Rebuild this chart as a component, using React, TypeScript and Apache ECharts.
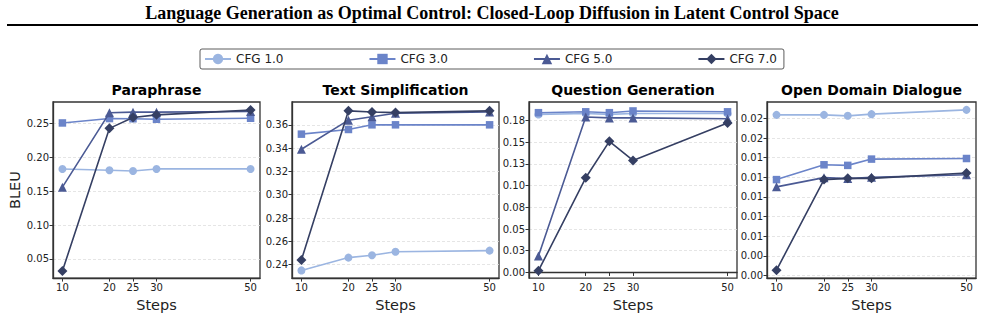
import React, { useEffect, useRef } from "react";
import * as echarts from "echarts";

// Sampling steps on the shared x axis
const steps = [10, 20, 25, 30, 50];

const seriesNames = ["CFG 1.0", "CFG 3.0", "CFG 5.0", "CFG 7.0"];
const seriesColors = ["#9bb5e1", "#6b84c9", "#4b5a94", "#353f63"];
const seriesSymbols = ["circle", "rect", "triangle", "diamond"];
const symbolSizes = [8, 7.5, 9, 10];

const panelTitles = [
  "Paraphrase",
  "Text Simplification",
  "Question Generation",
  "Open Domain Dialogue",
];

// BLEU per CFG scale, one list per panel and scale
const paraphraseCfg1 = [0.183, 0.181, 0.18, 0.183, 0.183];
const paraphraseCfg3 = [0.251, 0.2575, 0.2572, 0.2565, 0.258];
const paraphraseCfg5 = [0.156, 0.266, 0.267, 0.267, 0.268];
const paraphraseCfg7 = [0.032, 0.243, 0.259, 0.263, 0.27];

const simplificationCfg1 = [0.235, 0.246, 0.248, 0.251, 0.252];
const simplificationCfg3 = [0.352, 0.356, 0.36, 0.36, 0.36];
const simplificationCfg5 = [0.339, 0.364, 0.367, 0.37, 0.371];
const simplificationCfg7 = [0.244, 0.372, 0.371, 0.3705, 0.372];

const questionCfg1 = [0.182, 0.183, 0.182, 0.183, 0.183];
const questionCfg3 = [0.184, 0.185, 0.184, 0.186, 0.185];
const questionCfg5 = [0.019, 0.179, 0.178, 0.178, 0.177];
const questionCfg7 = [0.002, 0.109, 0.151, 0.129, 0.172];

const dialogueCfg1 = [0.01837, 0.01837, 0.01827, 0.01844, 0.01888];
const dialogueCfg3 = [0.01177, 0.01328, 0.01322, 0.01386, 0.01392];
const dialogueCfg5 = [0.01103, 0.01197, 0.01187, 0.012, 0.01227];
const dialogueCfg7 = [0.00254, 0.01177, 0.0119, 0.0119, 0.01244];

// Y tick positions and their printed labels
const paraphraseTicks = [0.05, 0.1, 0.15, 0.2, 0.25];
const paraphraseTickLabels = ["0.05", "0.10", "0.15", "0.20", "0.25"];
const simplificationTicks = [0.24, 0.26, 0.28, 0.3, 0.32, 0.34, 0.36];
const simplificationTickLabels = ["0.24", "0.26", "0.28", "0.30", "0.32", "0.34", "0.36"];
const questionTicks = [0, 0.025, 0.05, 0.075, 0.1, 0.125, 0.15, 0.175];
const questionTickLabels = ["0.00", "0.03", "0.05", "0.08", "0.10", "0.13", "0.15", "0.18"];
const dialogueTicks = [0.002, 0.004, 0.006, 0.008, 0.01, 0.012, 0.014, 0.016, 0.018];
const dialogueTickLabels = ["0.00", "0.00", "0.01", "0.01", "0.01", "0.01", "0.01", "0.02", "0.02"];

const xTicks = [10, 20, 25, 30, 50];

const panels = [
  {
    data: [paraphraseCfg1, paraphraseCfg3, paraphraseCfg5, paraphraseCfg7],
    ticks: paraphraseTicks,
    labels: paraphraseTickLabels,
    min: 0.0215,
    max: 0.282,
  },
  {
    data: [simplificationCfg1, simplificationCfg3, simplificationCfg5, simplificationCfg7],
    ticks: simplificationTicks,
    labels: simplificationTickLabels,
    min: 0.2284,
    max: 0.3796,
  },
  {
    data: [questionCfg1, questionCfg3, questionCfg5, questionCfg7],
    ticks: questionTicks,
    labels: questionTickLabels,
    min: -0.0065,
    max: 0.1963,
  },
  {
    data: [dialogueCfg1, dialogueCfg3, dialogueCfg5, dialogueCfg7],
    ticks: dialogueTicks,
    labels: dialogueTickLabels,
    min: 0.00173,
    max: 0.01968,
  },
];

const gridBoxes = [
  { left: 53, width: 207 },
  { left: 292, width: 207 },
  { left: 529, width: 208 },
  { left: 767, width: 209 },
];
const gridTop = 102;
const gridHeight = 177;

const FONT = "DejaVu Sans";
const AXIS_COLOR = "#333333";

function buildOption(): echarts.EChartsOption {
  const grid = gridBoxes.map((b) => ({
    left: b.left,
    width: b.width,
    top: gridTop,
    height: gridHeight,
    show: true,
    borderColor: AXIS_COLOR,
    borderWidth: 1.3,
    containLabel: false,
  }));

  const xAxis = gridBoxes.map((_, i) => ({
    type: "value" as const,
    gridIndex: i,
    min: 8,
    max: 52,
    name: "Steps",
    nameLocation: "middle" as const,
    nameGap: 14,
    nameTextStyle: { fontFamily: FONT, fontSize: 14.5, color: "#222" },
    axisLine: { show: true, lineStyle: { color: AXIS_COLOR, width: 1.3 } },
    axisTick: {
      show: true,
      customValues: xTicks,
      length: 3.5,
      lineStyle: { color: AXIS_COLOR, width: 1 },
    },
    axisLabel: {
      customValues: xTicks,
      margin: 4,
      fontFamily: FONT,
      fontSize: 10,
      color: "#222",
      formatter: (v: number) => String(v),
    },
    splitLine: { show: false },
  }));

  const yAxis = panels.map((p, i) => ({
    type: "value" as const,
    gridIndex: i,
    min: p.min,
    max: p.max,
    name: i === 0 ? "BLEU" : "",
    nameLocation: "middle" as const,
    nameGap: 31,
    nameTextStyle: { fontFamily: FONT, fontSize: 14.5, color: "#222" },
    axisLine: { show: true, lineStyle: { color: AXIS_COLOR, width: 1.3 } },
    axisTick: {
      show: true,
      customValues: p.ticks,
      length: 3.5,
      lineStyle: { color: AXIS_COLOR, width: 1 },
    },
    axisLabel: {
      customValues: p.ticks,
      margin: 4,
      fontFamily: FONT,
      fontSize: 10,
      color: "#222",
      formatter: (v: number) => {
        let best = 0;
        let bestD = Infinity;
        p.ticks.forEach((t, k) => {
          const d = Math.abs(t - v);
          if (d < bestD) {
            bestD = d;
            best = k;
          }
        });
        return p.labels[best];
      },
    },
    splitLine: {
      show: true,
      lineStyle: { color: "#dedede", width: 0.8, type: [3, 2] as any },
    },
  }));

  const series: any[] = [];
  panels.forEach((p, i) => {
    p.data.forEach((vals, s) => {
      series.push({
        name: seriesNames[s],
        type: "line",
        xAxisIndex: i,
        yAxisIndex: i,
        data: steps.map((x, k) => [x, vals[k]]),
        symbol: seriesSymbols[s],
        symbolSize: symbolSizes[s],
        showAllSymbol: true,
        lineStyle: { color: seriesColors[s], width: 1.6 },
        itemStyle: { color: seriesColors[s] },
        z: 2 + s,
      });
    });
  });

  const graphic: any[] = [
    {
      type: "text",
      x: 492,
      y: 13,
      style: {
        text: "Language Generation as Optimal Control: Closed-Loop Diffusion in Latent Control Space",
        font: "bold 18px 'Liberation Serif'",
        fill: "#000",
        align: "center",
        verticalAlign: "middle",
      },
    },
    {
      type: "line",
      shape: { x1: 7, y1: 25, x2: 978, y2: 25 },
      style: { stroke: "#000", lineWidth: 2 },
    },
  ];
  gridBoxes.forEach((b, i) => {
    graphic.push({
      type: "text",
      x: b.left + b.width / 2,
      y: 90,
      style: {
        text: panelTitles[i],
        font: `bold 14px '${FONT}'`,
        fill: "#000",
        align: "center",
        verticalAlign: "middle",
      },
    });
  });

  return {
    animation: false,
    backgroundColor: "#ffffff",
    grid,
    xAxis,
    yAxis,
    series,
    graphic,
    legend: {
      data: seriesNames,
      left: 200,
      top: 49,
      orient: "horizontal",
      itemGap: 85,
      itemWidth: 26,
      itemHeight: 13,
      padding: [4, 7, 4, 4],
      borderColor: AXIS_COLOR,
      borderWidth: 0.8,
      borderRadius: 2,
      textStyle: { fontFamily: FONT, fontSize: 12, color: "#222" },
    },
  };
}

export default function App() {
  const ref = useRef<HTMLDivElement>(null);
  useEffect(() => {
    if (!ref.current) return;
    const chart = echarts.init(ref.current, undefined, { renderer: "svg" });
    chart.setOption(buildOption());
    return () => chart.dispose();
  }, []);
  return (
    <div
      ref={ref}
      style={{ position: "fixed", left: 0, top: 0, width: 985, height: 317, background: "#fff" }}
    />
  );
}
